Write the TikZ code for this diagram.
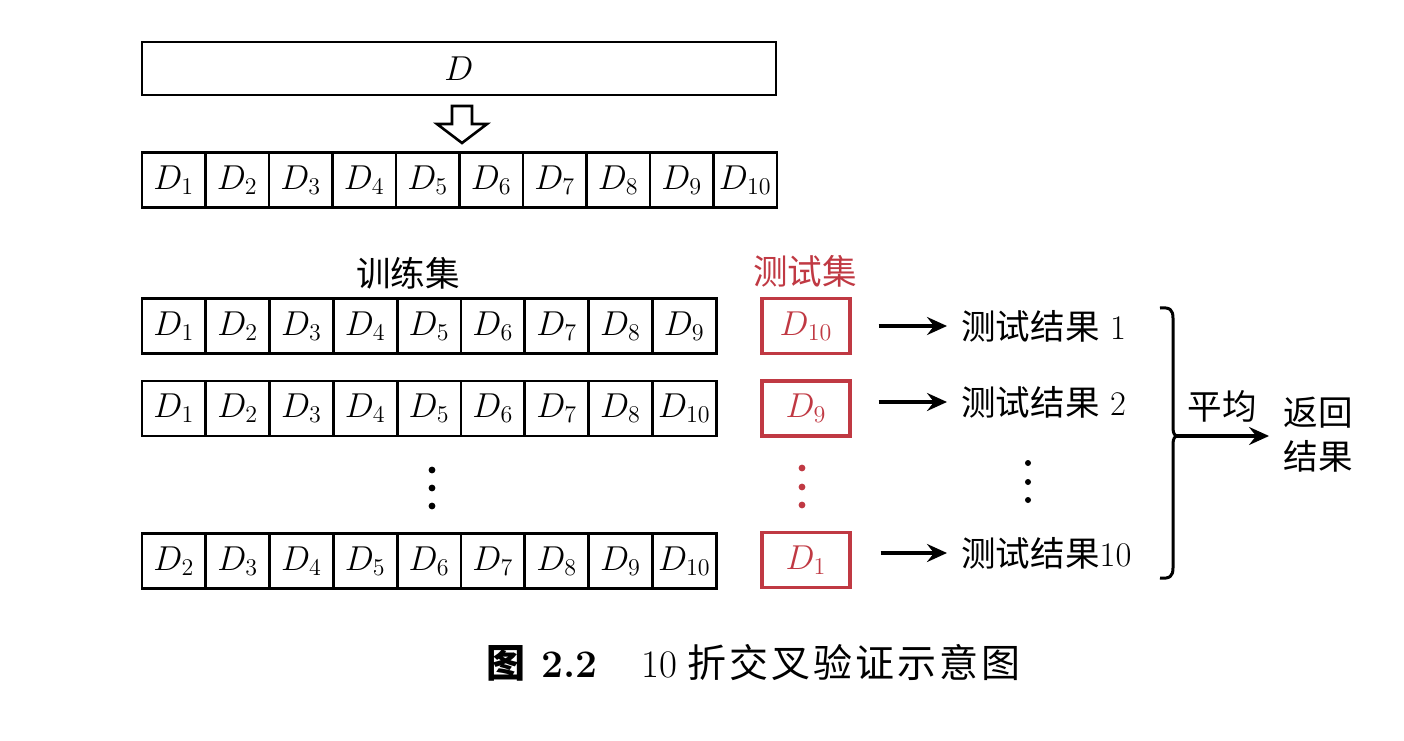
\documentclass[tikz,border=0pt]{standalone}
\usepackage{fontspec}
\newfontfamily\cjk{Noto Sans CJK SC}
\usetikzlibrary{arrows.meta}
\definecolor{tred}{RGB}{192,57,67}
\tikzset{
  cell/.style={draw, line width=1.4pt, minimum width=31.75pt, minimum height=27.5pt, inner sep=0pt, font=\fontsize{17.28}{20}\selectfont},
  tcell/.style={cell, minimum width=31.9pt},
  testbox/.style={draw=tred, text=tred, line width=1.6pt, minimum width=44pt, minimum height=27.5pt, inner sep=0pt, font=\fontsize{17.28}{20}\selectfont},
  zh/.style={inner sep=0pt, font=\fontsize{17.28}{20}\selectfont},
  arr/.style={line width=1.7pt, -{Stealth[length=10pt,width=9pt,inset=3.5pt]}},
  dot/.style={circle, fill, inner sep=0pt, minimum size=3.4pt},
}
\begin{document}
\begin{tikzpicture}[x=0.5pt,y=-0.5pt]
\useasboundingbox (0,0) rectangle (1404,740);
% top box
\node[cell, minimum width=317pt, minimum height=26.5pt] (D) at (459,68.5) {$D$};
% hollow arrow
\draw[line width=1.3pt, line join=miter] (452,106) -- (472,106) -- (472,124) -- (487,124) -- (462,143) -- (437,124) -- (452,124) -- cycle;
% split row
\foreach \i in {1,...,10}{
  \node[cell] (c\i) at ({142+63.5*(\i-0.5)},180) {$D_{\i}$};
}
% labels
\node[zh] (train) at (408,273) {\cjk 训练集};
\node[zh, text=tred] (test) at (805,271) {\cjk 测试集};
% training rows
\foreach \i in {1,...,9}{
  \node[tcell] (a\i) at ({142+63.8*(\i-0.5)},326) {$D_{\i}$};
}
\foreach \i/\l in {1/1,2/2,3/3,4/4,5/5,6/6,7/7,8/8,9/10}{
  \node[tcell] (b\i) at ({142+63.8*(\i-0.5)},408.5) {$D_{\l}$};
}
\foreach \i/\l in {1/2,2/3,3/4,4/5,5/6,6/7,7/8,8/9,9/10}{
  \node[tcell] (d\i) at ({142+63.8*(\i-0.5)},561) {$D_{\l}$};
}
% test boxes
\node[testbox] (t1) at (806,326) {$D_{10}$};
\node[testbox] (t2) at (806,408.5) {$D_{9}$};
\node[testbox] (t3) at (806,560) {$D_{1}$};
% dots
\foreach \y/\n in {470/1,488/2,506/3}{ \node[dot] (ld\n) at (432,\y) {}; }
\foreach \y/\n in {468/1,487/2,505/3}{ \node[dot, fill=tred] (md\n) at (802,\y) {}; }
\foreach \y/\n in {463/1,482/2,500/3}{ \node[dot, minimum size=3pt] (rd\n) at (1028,\y) {}; }
% results
\node[zh, anchor=west] (r1) at (961,326) {{\cjk 测试结果}\ 1};
\node[zh, anchor=west] (r2) at (961,402) {{\cjk 测试结果}\ 2};
\node[zh, anchor=west] (r3) at (961,553) {{\cjk 测试结果}10};
\draw[arr, shorten <=13.5pt, shorten >=7pt] (t1.east) -- (r1.west |- t1.east);
\draw[arr, shorten <=13.5pt, shorten >=7pt] (t2.east |- r2.west) -- (r2.west);
\draw[arr, shorten <=14.5pt, shorten >=7pt] (t3.east |- r3.west) -- (r3.west);
% brace
\draw[line width=1.5pt] (1160,308) .. controls (1170,307) and (1173,310) .. (1173,318) -- (1173,428) .. controls (1173,434) and (1175,436) .. (1178,436) .. controls (1175,436) and (1173,438) .. (1173,444) -- (1173,568) .. controls (1173,576) and (1170,579) .. (1160,578);
\coordinate (bt) at (1177,436);
\node[zh] (avg) at (1222,406) {\cjk 平均};
\node[zh] (ret1) at (1318,413) {\cjk 返回};
\node[zh] (ret2) at (1318,456) {\cjk 结果};
\draw[arr, shorten >=7pt] (bt) -- (ret1.west |- bt);
% caption
\node[inner sep=0pt, anchor=west, font=\fontsize{19.5}{22}\selectfont] (capa) at (486,663) {{\cjk\bfseries 图}\hspace{8pt}\textbf{2.2}};
\node[inner sep=0pt, anchor=west, font=\fontsize{19.5}{22}\selectfont] (capb) at (641,663) {10\hspace{5pt}{\cjk 折\kern1.5pt 交\kern1.5pt 叉\kern1.5pt 验\kern1.5pt 证\kern1.5pt 示\kern1.5pt 意\kern1.5pt 图}};
\end{tikzpicture}
\end{document}
